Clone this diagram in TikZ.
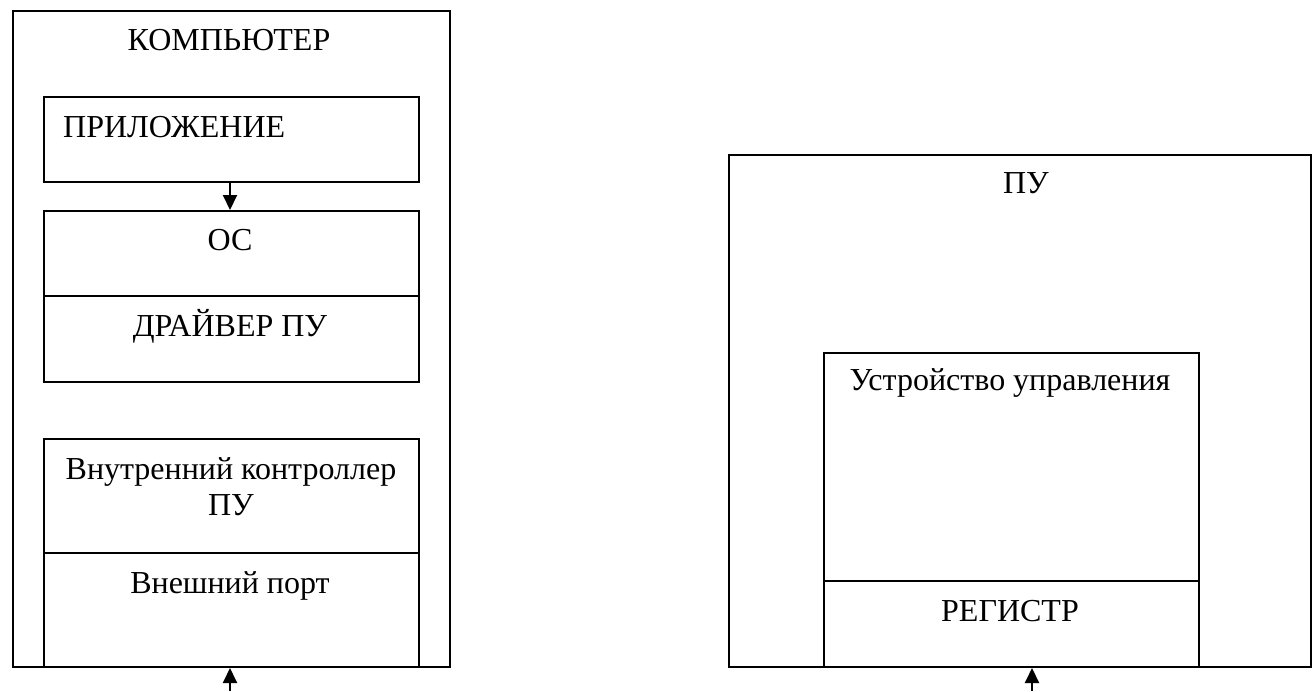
\documentclass[tikz,border=0pt]{standalone}
\usepackage{fontspec}
\setmainfont{Liberation Serif}
\usetikzlibrary{arrows.meta}
\begin{document}
\begin{tikzpicture}[x=1pt,y=-1pt,
  box/.style={draw=black, line width=2pt, inner sep=0pt, anchor=north west},
  lbl/.style={anchor=base, inner sep=0pt, font=\fontsize{32}{36}\selectfont},
  arr/.style={line width=2pt, -{Triangle[length=15pt,width=14pt]}}]
\useasboundingbox (0,0) rectangle (1312,691);
% left: computer
\node[box, minimum width=437pt, minimum height=656pt] (comp) at (12,10) {};
\node[lbl] (compt) at (229,50) {КОМПЬЮТЕР};
\node[box, minimum width=375pt, minimum height=85pt] (app) at (43,96) {};
\node[lbl, anchor=base west] (appt) at (63,137) {ПРИЛОЖЕНИЕ};
\node[box, minimum width=375pt, minimum height=85pt] (os) at (43,210) {};
\node[lbl] (ost) at (230,250) {ОС};
\node[box, minimum width=375pt, minimum height=86pt] (drv) at (43,295) {};
\node[lbl] (drvt) at (230,336) {ДРАЙВЕР ПУ};
\node[box, minimum width=375pt, minimum height=114pt] (ctl) at (43,438) {};
\node[lbl] (ctlt) at (231,479) {Внутренний контроллер};
\node[lbl] (ctlt2) at (231,515) {ПУ};
\node[box, minimum width=375pt, minimum height=114pt] (port) at (43,552) {};
\node[lbl] (portt) at (230,593) {Внешний порт};
% right: device
\node[box, minimum width=582pt, minimum height=512pt] (dev) at (728,154) {};
\node[lbl] (devt) at (1026,193) {ПУ};
\node[box, minimum width=375pt, minimum height=228pt] (cu) at (823,352) {};
\node[lbl] (cut) at (1010,390) {Устройство управления};
\node[box, minimum width=375pt, minimum height=86pt] (reg) at (823,580) {};
\node[lbl] (regt) at (1010,621) {РЕГИСТР};
% connectors
\draw[arr] (app.south -| 230,0) -- (os.north -| 230,0);
\coordinate (inL) at (230,691);
\coordinate (inR) at (1032,691);
\draw[arr] (inL) -- (inL |- port.south);
\draw[arr] (inR) -- (inR |- reg.south);
\end{tikzpicture}
\end{document}
